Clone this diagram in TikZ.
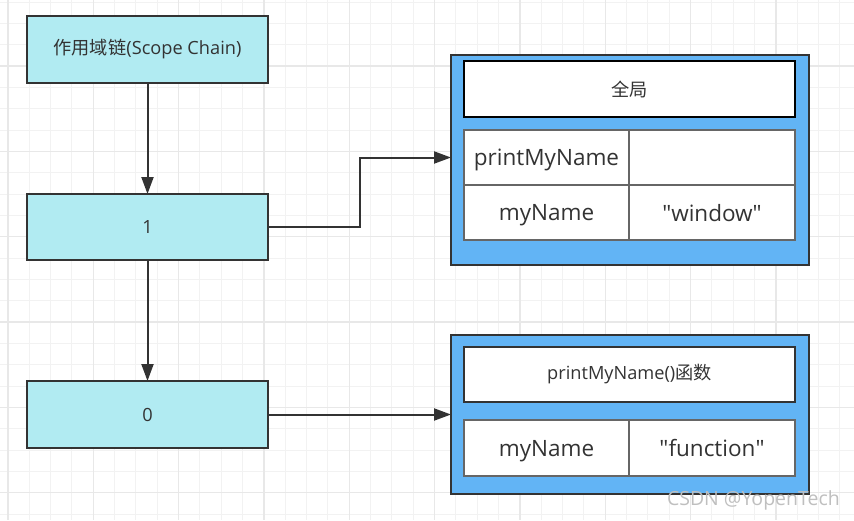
\documentclass[tikz,border=0pt]{standalone}
\usepackage{fontspec}
\setmainfont{Open Sans}
\newfontfamily\cjk{Noto Sans CJK SC}
\usetikzlibrary{arrows.meta,calc}
\definecolor{ink}{HTML}{333333}
\definecolor{cyanfill}{HTML}{B1EBF2}
\definecolor{bluefill}{HTML}{62B4F5}
\definecolor{cellline}{HTML}{666666}
\definecolor{gridminor}{HTML}{F2F2F2}
\definecolor{gridmajor}{HTML}{E8E8E8}
\begin{document}
\begin{tikzpicture}[x=1pt,y=-1pt,
  every node/.style={inner sep=0pt,outer sep=0pt,text=ink},
  chainbox/.style={draw=ink,line width=2pt,fill=cyanfill,minimum width=241pt,font=\fontsize{18.2}{20}\selectfont},
  bigbox/.style={draw=ink,line width=2pt,fill=bluefill,minimum width=358pt},
  titlebox/.style={fill=white,minimum width=331pt,font=\fontsize{18.2}{20}\selectfont},
  cell/.style={draw=cellline,line width=1.6pt,fill=white,minimum height=55pt,text depth=0pt,font=\fontsize{22.5}{26}\selectfont},
  arr/.style={draw=ink,line width=2pt,-{Triangle[length=17pt,width=12pt]}}]
\useasboundingbox (0,0) rectangle (854,520);
\fill[white] (0,0) rectangle (854,520);
% grid
\foreach \i in {0,...,40} {
  \draw[gridminor,line width=1pt] ({8+\i*21.333},0) -- ({8+\i*21.333},520);
}
\foreach \i in {0,...,25} {
  \draw[gridminor,line width=1pt] (0,{2+\i*21.333}) -- (854,{2+\i*21.333});
}
\foreach \i in {0,...,10} {
  \draw[gridmajor,line width=1.2pt] ({8+\i*85.333},0) -- ({8+\i*85.333},520);
}
\foreach \i in {0,...,6} {
  \draw[gridmajor,line width=1.2pt] (0,{-19.33+\i*85.333}) -- (854,{-19.33+\i*85.333});
}
% left chain
\node[chainbox,minimum height=67pt] (sc) at (147.5,49.5) {{\cjk 作用域链}(Scope Chain)};
\node[chainbox,minimum height=66pt] (b1) at (147.5,227) {1};
\node[chainbox,minimum height=67pt] (b0) at (147.5,414.5) {0};
% global object
\node[bigbox,minimum height=210pt] (g) at (630,160) {};
\node[titlebox,draw=black,line width=2.4pt,minimum height=56pt] (gt) at (629.5,89) {\cjk 全局};
\node[cell,minimum width=165pt] (g11) at (546.5,157.5) {printMyName};
\node[cell,minimum width=166pt] (g12) at (712,157.5) {};
\node[cell,minimum width=165pt] (g21) at (546.5,212.5) {myName};
\node[cell,minimum width=166pt] (g22) at (712,212.5) {\textquotedbl window\textquotedbl};
% function object
\node[bigbox,minimum height=159pt] (f) at (630,414.5) {};
\node[titlebox,draw=ink,line width=2pt,minimum height=55pt] (ft) at (629.5,374.5) {printMyName(){\cjk 函数}};
\node[cell,minimum width=165pt,minimum height=56pt] (f11) at (546.5,448) {myName};
\node[cell,minimum width=166pt,minimum height=56pt] (f12) at (712,448) {\textquotedbl function\textquotedbl};
% connectors
\coordinate (k) at (360,227);
\draw[arr] (sc.south) -- (b1.north);
\draw[arr] (b1.south) -- (b0.north);
\draw[arr] (b1.east) -- (k) |- (g.west |- g11.center);
\draw[arr] (b0.east) -- (b0.east -| f.west);
% watermark
\node[anchor=base west,text=gray!50,font=\fontsize{19.5}{22}\selectfont] (wm) at (667,505) {CSDN @YopenTech};
\end{tikzpicture}
\end{document}
